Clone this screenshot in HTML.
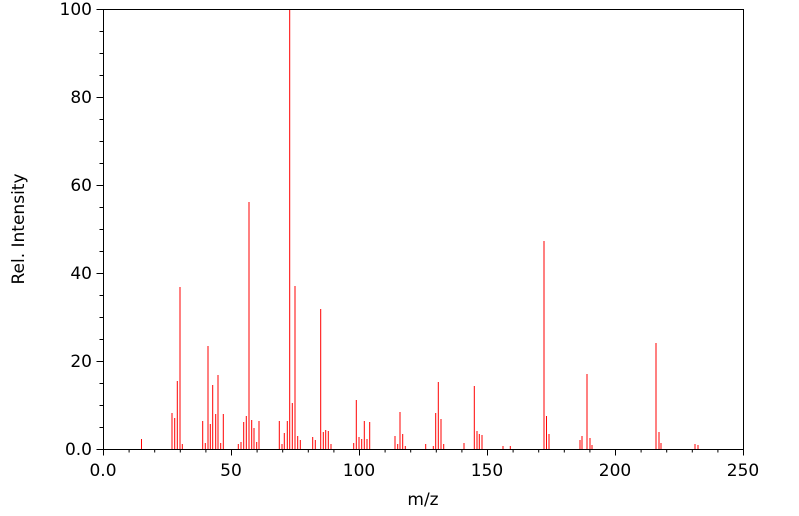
<!DOCTYPE html>
<html><head><meta charset="utf-8"><style>
html,body{margin:0;padding:0;background:#fff;}
svg{display:block;font-family:"DejaVu Sans","Liberation Sans",sans-serif;}
</style></head><body>
<svg width="799" height="516" viewBox="0 0 799 516" xmlns="http://www.w3.org/2000/svg">
<rect width="799" height="516" fill="#fff"/>
<g stroke="#ff0000" stroke-width="1">
<path d="M141.5 449V439 M172 449V413 M174.7 449V418 M177.3 449V381 M180 449V287 M182.3 449V444 M202.7 449V421 M205.3 449V443 M208 449V346 M210.3 449V424 M212.7 449V385 M215.7 449V414 M218 449V375 M220.7 449V443 M223.3 449V414 M238.3 449V444 M241 449V442 M243.7 449V422 M246.3 449V416 M249 449V202 M251.7 449V420 M254 449V428 M256.7 449V442 M259 449V421 M279.3 449V421 M282 449V444 M284.3 449V433 M287.3 449V421 M289.7 449V9 M292.3 449V403 M295 449V286 M297.7 449V436 M300.3 449V440 M312.7 449V437 M315.3 449V440 M320.7 449V309 M323.3 449V432 M325.7 449V430 M328.3 449V431 M331 449V444 M353.7 449V443 M356.3 449V400 M359 449V437 M361.7 449V439 M364.3 449V421 M367 449V439 M369.7 449V422 M395 449V436 M397.7 449V444 M400 449V412 M402.7 449V434 M405.3 449V446 M425.7 449V444 M433.3 449V446 M435.7 449V413 M438.3 449V382 M441 449V419 M443.7 449V444 M464 449V443 M474.3 449V386 M477 449V431 M479.3 449V434 M482 449V435 M503 449V446 M510.3 449V446 M544 449V241 M546.5 449V416 M549 449V434 M580 449V440 M582 449V436 M587 449V374 M590 449V438 M592 449V445 M656 449V343 M659 449V432 M661 449V443 M695 449V444 M698 449V445"/>
</g>
<rect x="103.5" y="9.5" width="640" height="440" fill="none" stroke="#000" stroke-width="1"/>
<g stroke="#000" stroke-width="1">
<path d="M103.5 449.5v6 M231.5 449.5v6 M359.5 449.5v6 M487.5 449.5v6 M615.5 449.5v6 M743.5 449.5v6"/>
<path d="M129.1 449.5v3 M154.7 449.5v3 M180.3 449.5v3 M205.9 449.5v3 M257.1 449.5v3 M282.7 449.5v3 M308.3 449.5v3 M333.9 449.5v3 M385.1 449.5v3 M410.7 449.5v3 M436.3 449.5v3 M461.9 449.5v3 M513.1 449.5v3 M538.7 449.5v3 M564.3 449.5v3 M589.9 449.5v3 M641.1 449.5v3 M666.7 449.5v3 M692.3 449.5v3 M717.9 449.5v3"/>
<path d="M103.5 449.5h-7 M103.5 361.5h-7 M103.5 273.5h-7 M103.5 185.5h-7 M103.5 97.5h-7 M103.5 9.5h-7"/>
<path d="M103.5 427.5h-4 M103.5 405.5h-4 M103.5 383.5h-4 M103.5 339.5h-4 M103.5 317.5h-4 M103.5 295.5h-4 M103.5 251.5h-4 M103.5 229.5h-4 M103.5 207.5h-4 M103.5 163.5h-4 M103.5 141.5h-4 M103.5 119.5h-4 M103.5 75.5h-4 M103.5 53.5h-4 M103.5 31.5h-4"/>
</g>
<g font-size="17" fill="#000" text-anchor="middle">
<text x="103" y="476">0.0</text>
<text x="231" y="476">50</text>
<text x="359" y="476">100</text>
<text x="487" y="476">150</text>
<text x="615" y="476">200</text>
<text x="743" y="476">250</text>
<text x="423" y="505">m/z</text>
</g>
<g font-size="17" fill="#000" text-anchor="end">
<text x="92" y="455">0.0</text>
<text x="92" y="367">20</text>
<text x="92" y="279">40</text>
<text x="92" y="191">60</text>
<text x="92" y="103">80</text>
<text x="92" y="15">100</text>
</g>
<text transform="translate(24,229) rotate(-90)" font-size="17" text-anchor="middle" fill="#000">Rel. Intensity</text>
</svg>
</body></html>
